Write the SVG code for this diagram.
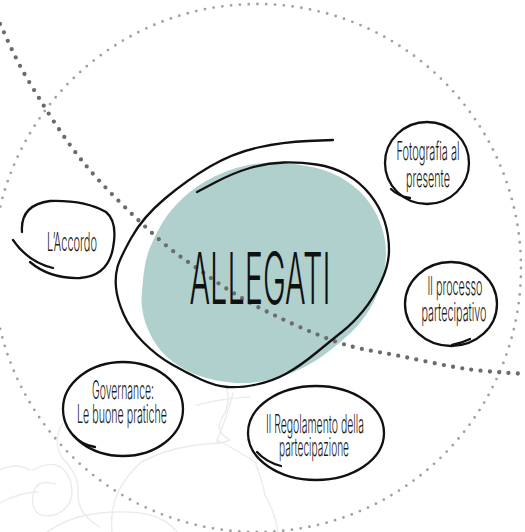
<svg xmlns="http://www.w3.org/2000/svg" width="525" height="532" viewBox="0 0 525 532">
<style>
.bg{fill:#ffffff}
.sketch{fill:none;stroke:#ebebeb;stroke-width:1.4;stroke-linecap:round;stroke-linejoin:round}
.ring{fill:none;stroke:#a0a0a0;stroke-width:2.8;stroke-linecap:round;stroke-dasharray:0 8.823}
.trail{fill:none;stroke:#6c6c6c;stroke-width:4.3;stroke-linecap:round;stroke-dasharray:0 9.3}
.blob{fill:#afd0cd}
.loop{fill:none;stroke:#111111;stroke-width:2.3;stroke-linecap:round;stroke-linejoin:round}
.lbl{font-family:Inter,"Liberation Sans",sans-serif;font-weight:300;font-size:25px;fill:#1a1a1a;text-anchor:middle}
.title{font-family:Inter,"Liberation Sans",sans-serif;font-weight:300;font-size:72px;fill:#111111;text-anchor:middle}
</style>
<rect class="bg" x="0" y="0" width="525" height="532"/>
<g id="sketch">
<path class="sketch" d="M197,405 Q225,398 250,397"/>
<path class="sketch" d="M227,388 Q231,405 222,418 Q214,432 230,440 Q215,446 217,440 Q226,420 233,393"/>
<path class="sketch" d="M217,440 Q240,452 255,462 Q262,480 265,495 Q275,512 278,532"/>
<path class="sketch" d="M220,443 Q190,444 165,452 Q148,458 140,463 Q125,478 118,492 Q110,510 112,532"/>
<path class="sketch" d="M63,423 Q52,440 62,458 Q80,475 78,495 Q78,515 100,527"/>
<path class="sketch" d="M33,470 Q60,455 70,480 Q78,505 55,515 Q30,520 33,495 Q36,478 55,484"/>
<path class="sketch" d="M0,503 Q20,492 38,492"/>
<path class="sketch" d="M47,532 Q70,516 100,513 Q130,510 150,515 Q168,520 177,532"/>
<path class="sketch" d="M0,470 Q15,462 30,470"/>
</g>
<g id="connectors">
<circle class="ring" cx="257" cy="268" r="264"/>
</g>
<g id="center">
<path class="blob" d="M143.5,275 Q145,260 150,247.5 Q155,235 162.5,222.5 Q170,210 183.5,197.5 Q197,185 213.5,177 Q230,169 246,165.5 Q262,162 281,163 Q300,164 316.5,168 Q333,172 346.5,181 Q360,190 368.5,201.5 Q377,213 381.5,226.5 Q386,240 386,253 Q386,266 382,280.5 Q378,295 370,308.5 Q362,322 351,332.5 Q340,343 326,353.5 Q312,364 296,371 Q280,378 263.5,381 Q247,384 231,382.5 Q215,381 200,376 Q185,371 172.5,361.5 Q160,352 153,339.5 Q146,327 143.5,316 Q141,305 141.5,297.5 Q142,290 143.5,275 Z"/>
</g>
<g id="trail">
<path class="trail" d="M0,24 C4.7,33.3 14.2,57 28,80 C41.8,103 62.3,136.5 83,162 C103.7,187.5 132.8,215.2 152,233 C171.2,250.8 180.7,256.8 198,269 C215.3,281.2 232.8,293.8 256,306 C279.2,318.2 313,333.7 337,342 C361,350.3 378.3,351.5 400,356 C421.7,360.5 446.2,366 467,369 C487.8,372 515.3,373.2 525,374"/>
</g>
<g id="allegati">
<path class="loop" d="M197,192 L215,182.5 Q233,173 250,168 Q267,163 283.5,162.5 Q300,162 316.5,164.5 Q333,167 346.5,174.5 Q360,182 370,194.5 Q380,207 384.5,221 Q389,235 389,250 Q389,265 381,282 Q373,299 363,311 Q353,323 343,331 Q333,339 316.5,352.5 Q300,366 286.5,373.5 Q273,381 256.5,384.5 Q240,388 227.5,387 Q215,386 201,379.5 Q187,373 172,364.5 Q157,356 143.5,342.5 Q130,329 123.5,314 Q117,299 116,287.5 Q115,276 117.5,267 Q120,258 131.5,237.5 Q143,217 165,198.5 Q187,180 210,166.5 Q233,153 258,147.5 Q283,142 308,141 L333,140"/>
<text class="title" x="260" y="304" textLength="141" lengthAdjust="spacingAndGlyphs">ALLEGATI</text>
</g>
<g id="node-fotografia">
<ellipse class="loop" cx="427" cy="163" rx="42" ry="41"/>
<path class="loop" d="M391,189 Q398,196 410,198"/>
<text class="lbl" x="428" y="160" textLength="63" lengthAdjust="spacingAndGlyphs">Fotografia al</text>
<text class="lbl" x="428" y="187" textLength="44" lengthAdjust="spacingAndGlyphs">presente</text>
</g>
<g id="node-accordo">
<path class="loop" d="M22,232 Q20,205 50,201 Q85,200 106,212 Q118,222 113,248 Q108,276 80,278 Q50,279 30,262"/>
<path class="loop" d="M13,240 Q28,262 53,268"/>
<text class="lbl" x="72" y="251" textLength="50" lengthAdjust="spacingAndGlyphs">L’Accordo</text>
</g>
<g id="node-processo">
<ellipse class="loop" cx="451" cy="304" rx="46" ry="42"/>
<path class="loop" d="M452,345 Q462,343 470,339"/>
<text class="lbl" x="455" y="295" textLength="55" lengthAdjust="spacingAndGlyphs">Il processo</text>
<text class="lbl" x="454" y="321" textLength="65" lengthAdjust="spacingAndGlyphs">partecipativo</text>
</g>
<g id="node-governance">
<ellipse class="loop" cx="123" cy="409" rx="60" ry="47"/>
<path class="loop" d="M73,435 Q82,445 95,447"/>
<text class="lbl" x="123" y="399" textLength="62" lengthAdjust="spacingAndGlyphs">Governance:</text>
<text class="lbl" x="122" y="423" textLength="90" lengthAdjust="spacingAndGlyphs">Le buone pratiche</text>
</g>
<g id="node-regolamento">
<ellipse class="loop" cx="316" cy="433" rx="68" ry="47"/>
<path class="loop" d="M257,452 Q266,462 281,466"/>
<text class="lbl" x="315" y="433" textLength="98" lengthAdjust="spacingAndGlyphs">Il Regolamento della</text>
<text class="lbl" x="314" y="456" textLength="70" lengthAdjust="spacingAndGlyphs">partecipazione</text>
</g>
</svg>
